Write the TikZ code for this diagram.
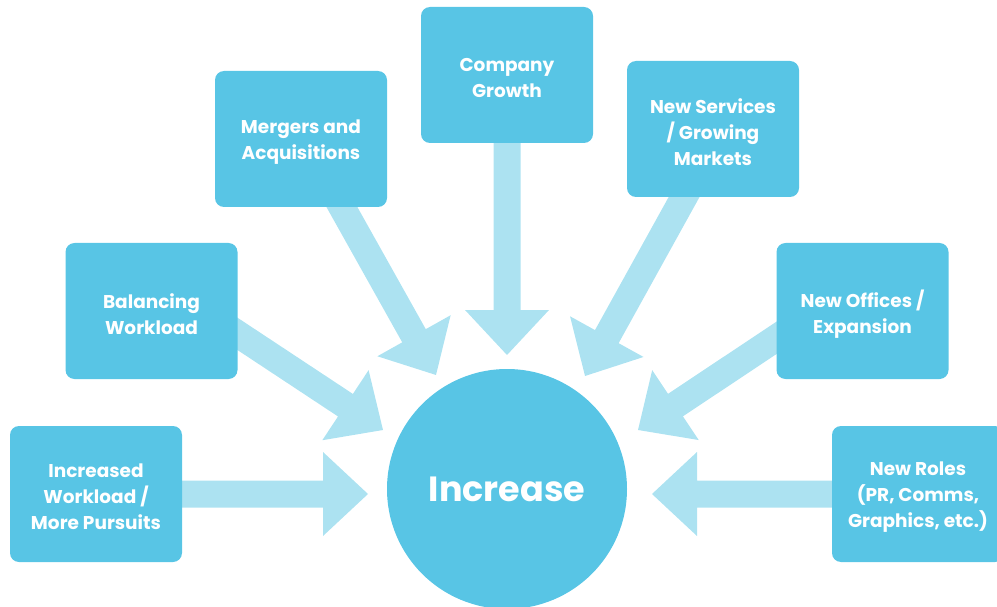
\documentclass[tikz,border=0pt]{standalone}
\usepackage{fontspec}
\setmainfont{Poppins}
\usetikzlibrary{calc}
\definecolor{boxblue}{HTML}{58C5E5}
\definecolor{arrowblue}{HTML}{ACE2F1}
\pgfdeclarelayer{back}
\pgfsetlayers{back,main}
\tikzset{
  cause/.style={fill=boxblue, rounded corners=9pt, minimum width=172pt,
    minimum height=136pt, inner sep=0pt},
  causetext/.style={inner sep=0pt, text=white, align=center, yshift=-3pt,
    font=\bfseries\fontsize{18.5}{26}\selectfont},
  hub/.style={circle, fill=boxblue, minimum size=240pt, inner sep=0pt,
    text=white, font=\bfseries\fontsize{35}{40}\selectfont},
  flow/.style={fill=arrowblue},
}
% block arrow from coordinate #1 to tip #2 (shaft 27, head 84 wide and 45 long)
\newcommand\flowarrow[2]{%
  \coordinate (fa-s) at ($(#1)!-12pt!(#2)$);
  \coordinate (fa-h) at ($(#2)!45pt!(#1)$);
  \fill[flow] ($(fa-s)!13.5pt!90:(#2)$) -- ($(fa-h)!13.5pt!90:(#2)$)
    -- ($(fa-h)!42pt!90:(#2)$) -- (#2) -- ($(fa-h)!42pt!-90:(#2)$)
    -- ($(fa-h)!13.5pt!-90:(#2)$) -- ($(fa-s)!13.5pt!-90:(#2)$) -- cycle;}
\begin{document}
\begin{tikzpicture}[x=1pt, y=-1pt]
  \useasboundingbox (0,0) rectangle (997,607);
  \clip (0,0) rectangle (997,607);

  % central hub
  \node[hub] (hub) at (507,489) {Increase};

  % the causes around it
  \node[cause, label={[causetext]center:{Increased\\Workload /\\More Pursuits}}] (b1) at (96,494) {};
  \node[cause, label={[causetext]center:{Balancing\\Workload}}] (b2) at (151.5,311) {};
  \node[cause, label={[causetext]center:{Mergers and\\Acquisitions}}] (b3) at (301,139) {};
  \node[cause, label={[causetext]center:{Company\\Growth}}] (b4) at (507,75) {};
  \node[cause, label={[causetext]center:{New Services\\/ Growing\\Markets}}] (b5) at (713,129) {};
  \node[cause, label={[causetext]center:{New Offices /\\Expansion}}] (b6) at (862.5,311) {};
  \node[cause, label={[causetext]center:{New Roles\\(PR, Comms,\\Graphics, etc.)}}] (b7) at (918,494) {};

  % arrow start points on the boxes
  \coordinate (s1) at (b1.east);
  \coordinate (s2) at ($(b2.east)+(0,23)$);
  \coordinate (s3) at ($(b3.south)+(41,0)$);
  \coordinate (s4) at (b4.south);
  \coordinate (s5) at ($(b5.south)+(-29,0)$);
  \coordinate (s6) at ($(b6.west)+(0,27)$);
  \coordinate (s7) at (b7.west);

  % arrow tips around the hub
  \coordinate (t1) at ($(hub.center)+(-139,5)$);
  \coordinate (t2) at ($(hub.center)+(-124,-59)$);
  \coordinate (t3) at ($(hub.center)+(-71,-114)$);
  \coordinate (t4) at ($(hub.center)+(0,-134)$);
  \coordinate (t5) at ($(hub.center)+(78,-113)$);
  \coordinate (t6) at ($(hub.center)+(131,-59)$);
  \coordinate (t7) at ($(hub.center)+(145,5)$);

  \begin{pgfonlayer}{back}
    \flowarrow{s1}{t1}
    \flowarrow{s2}{t2}
    \flowarrow{s3}{t3}
    \flowarrow{s4}{t4}
    \flowarrow{s5}{t5}
    \flowarrow{s6}{t6}
    \flowarrow{s7}{t7}
  \end{pgfonlayer}
\end{tikzpicture}
\end{document}
